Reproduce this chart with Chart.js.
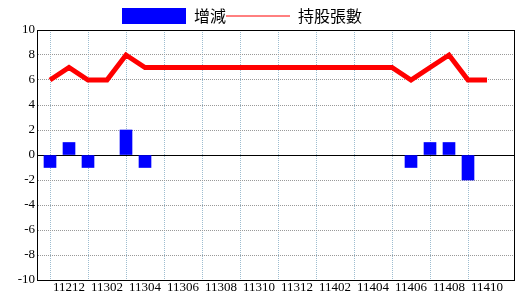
<!DOCTYPE html>
<html>
<head>
<meta charset="utf-8">
<script src="https://cdn.jsdelivr.net/npm/chart.js@4/dist/chart.umd.min.js"></script>
<style>
html,body{margin:0;padding:0;background:#fff;}
canvas{display:block;}
</style>
</head>
<body>
<canvas id="c" width="520" height="300"></canvas>
<script>
const months = ['11211','11212','11301','11302','11303','11304','11305','11306','11307','11308','11309','11310','11311','11312','11401','11402','11403','11404','11405','11406','11407','11408','11409','11410'];
const changeValues = [-1,1,-1,0,2,-1,0,0,0,0,0,0,0,0,0,0,0,0,0,-1,1,1,-2,0];
const holdingValues = [6,7,6,6,8,7,7,7,7,7,7,7,7,7,7,7,7,7,7,6,7,8,6,6];
const yTicks = [-10,-8,-6,-4,-2,0,2,4,6,8,10];
const seriesNames = ['增減','持股張數'];

const tickFont = {family:"'Liberation Serif','Times New Roman',serif", size:13};

const boxPlugin = {
  id:'boxPlugin',
  afterInit(chart){
    const L = chart.legend;
    if (L) {
      const f = L.fit;
      L.fit = function(){ f.call(this); this.height = 22; };
    }
  },
  afterLayout(chart){
    if (chart.legend) chart.legend.left = 122;
  },
  afterDraw(chart){
    const a = chart.chartArea, ctx = chart.ctx;
    ctx.save();
    ctx.strokeStyle = '#000';
    ctx.lineWidth = 1;
    ctx.strokeRect(Math.round(a.left)-0.5, Math.round(a.top)+0.5, Math.round(a.right-a.left), Math.round(a.bottom-a.top));
    ctx.restore();
  }
};

new Chart(document.getElementById('c'), {
  data: {
    datasets: [
      {
        type:'bar',
        label: seriesNames[0],
        data: changeValues.map((v,i)=>({x:i,y:(v === 0 ? null : v)})),
        backgroundColor:'#0000ff',
        borderWidth:0,
        barThickness:12
      },
      {
        type:'line',
        label: seriesNames[1],
        data: holdingValues.map((v,i)=>({x:i,y:v})),
        borderColor:'#ff0000',
        backgroundColor:'#ff0000',
        borderWidth:5,
        pointRadius:0,
        tension:0
      }
    ]
  },
  options: {
    responsive:false,
    animation:false,
    events:[],
    layout:{padding:{left:0,right:5,top:8,bottom:0}},
    plugins:{
      tooltip:{enabled:false},
      legend:{
        position:'top',
        align:'start',
        labels:{
          usePointStyle:true,
          pointStyleWidth:64,
          boxHeight:16,
          padding:0,
          color:'#000',
          font:{family:"'Noto Sans CJK TC',sans-serif", size:16},
          generateLabels(chart){
            const items = Chart.defaults.plugins.legend.labels.generateLabels(chart);
            items.forEach(it=>{
              if (it.datasetIndex === 0) { it.pointStyle='rect'; it.lineWidth=0; }
              else { it.pointStyle='line'; it.lineWidth=1; it.strokeStyle='#ff0000'; }
            });
            items.sort((a,b)=>a.datasetIndex-b.datasetIndex);
            return items;
          }
        }
      }
    },
    scales:{
      x:{
        type:'linear',
        offset:false,
        min:-12/19,
        max:465/19,
        afterBuildTicks(scale){ scale.ticks = months.map((m,i)=>({value:i})); },
        afterFit(scale){ scale.height = 20; },
        ticks:{
          autoSkip:false,
          maxRotation:0,
          padding:0,
          color:'#000',
          font:tickFont,
          callback(v){ return (v % 2 === 1) ? months[v] : ''; }
        },
        grid:{
          offset:false,
          drawTicks:false,
          color:(c)=> (c.tick && c.tick.value % 2 === 0) ? '#9dbdd0' : 'rgba(0,0,0,0)',
          lineWidth:1
        },
        border:{display:false, dash:[1,1]}
      },
      y:{
        min:-10,
        max:10,
        afterBuildTicks(scale){ scale.ticks = yTicks.map(v=>({value:v})); },
        afterFit(scale){ scale.width = 38; },
        ticks:{
          padding:3,
          color:'#000',
          font:tickFont
        },
        grid:{
          drawTicks:false,
          color:(c)=> (c.tick && c.tick.value === 0) ? '#000' : '#999999',
          lineWidth:1
        },
        border:{display:false, dash:(c)=> (c.tick && c.tick.value === 0) ? [] : [1,1]}
      }
    }
  },
  plugins:[boxPlugin]
});
</script>
</body>
</html>
